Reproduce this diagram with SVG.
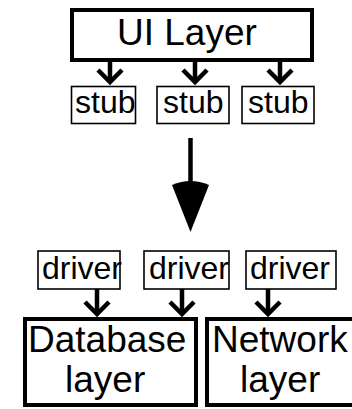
<svg xmlns="http://www.w3.org/2000/svg" width="352" height="409" viewBox="0 0 352 409">
<style>
.thick{fill:#fff;stroke:#000;stroke-width:4}
.thin{fill:#fff;stroke:#000;stroke-width:1.6}
.t{font-family:"Liberation Sans",Arial,sans-serif;fill:#000}
.big{font-size:37px}
.small{font-size:32px}
.arr{fill:none;stroke:#000;stroke-width:4.5;stroke-linejoin:miter}
</style>
<rect width="352" height="409" fill="#fff"/>
<g id="connectors">
<line class="arr" x1="110" y1="62" x2="110" y2="82"/>
<polyline class="arr" points="98,70 110,82 122,70"/>
<line class="arr" x1="195" y1="62" x2="195" y2="82"/>
<polyline class="arr" points="183,70 195,82 207,70"/>
<line class="arr" x1="280" y1="62" x2="280" y2="82"/>
<polyline class="arr" points="268,70 280,82 292,70"/>
<line class="arr" x1="190.5" y1="138" x2="190.5" y2="186"/>
<path d="M172,185 Q190.5,177 209,185 L190.5,232 Z" fill="#000"/>
<line class="arr" x1="97" y1="289" x2="97" y2="314"/>
<polyline class="arr" points="85,302 97,314 109,302"/>
<line class="arr" x1="182" y1="289" x2="182" y2="314"/>
<polyline class="arr" points="170,302 182,314 194,302"/>
<line class="arr" x1="268" y1="289" x2="268" y2="314"/>
<polyline class="arr" points="256,302 268,314 280,302"/>
</g>
<g id="ui-layer">
<rect class="thick" x="72" y="10" width="240" height="50"/>
<text class="t big" x="117" y="45">UI Layer</text>
</g>
<g id="stub1">
<rect class="thin" x="71.5" y="86.5" width="64" height="37"/>
<text class="t small" x="75" y="113">stub</text>
</g>
<g id="stub2">
<rect class="thin" x="157" y="86.5" width="72" height="37"/>
<text class="t small" x="163" y="113">stub</text>
</g>
<g id="stub3">
<rect class="thin" x="242" y="86.5" width="72" height="37"/>
<text class="t small" x="248" y="113">stub</text>
</g>
<g id="driver1">
<rect class="thin" x="38" y="251" width="82" height="38"/>
<text class="t small" x="42" y="279">driver</text>
</g>
<g id="driver2">
<rect class="thin" x="144" y="251" width="85" height="38"/>
<text class="t small" x="149" y="279">driver</text>
</g>
<g id="driver3">
<rect class="thin" x="246" y="251" width="90" height="38"/>
<text class="t small" x="250" y="279">driver</text>
</g>
<g id="database-layer">
<rect class="thick" x="25" y="319" width="171" height="86"/>
<text class="t big" x="28" y="352">Database</text>
<text class="t big" x="65" y="392">layer</text>
</g>
<g id="network-layer">
<rect class="thick" x="207" y="319" width="148" height="86"/>
<text class="t big" x="212" y="352">Network</text>
<text class="t big" x="240" y="392">layer</text>
</g>
</svg>
